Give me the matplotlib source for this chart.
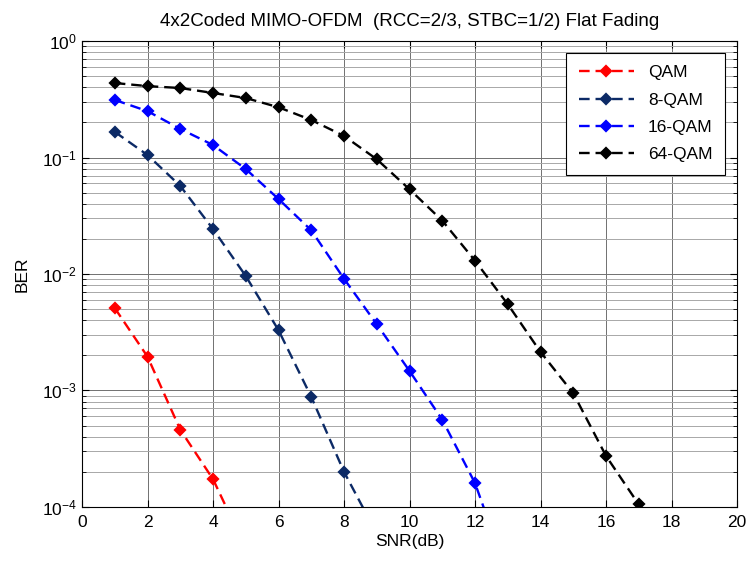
import numpy as np
import matplotlib
matplotlib.use("Agg")
import matplotlib.pyplot as plt
from matplotlib.ticker import LogLocator, FixedLocator, NullFormatter

plt.rcParams['font.family'] = ['Liberation Sans', 'DejaVu Sans']

snr_qam = [1, 2, 3, 4, 5]
ber_qam = [5.1e-3, 1.95e-3, 4.6e-4, 1.73e-4, 4.4e-5]

snr_8qam = [1, 2, 3, 4, 5, 6, 7, 8, 9]
ber_8qam = [0.166, 0.105, 0.057, 0.0243, 9.6e-3, 3.29e-3, 8.8e-4, 2.0e-4, 5.9e-5]

snr_16qam = [1, 2, 3, 4, 5, 6, 7, 8, 9, 10, 11, 12, 13]
ber_16qam = [0.312, 0.25, 0.176, 0.128, 0.0796, 0.044, 0.0237, 9.1e-3, 3.7e-3,
             1.47e-3, 5.6e-4, 1.6e-4, 2.6e-5]

snr_64qam = [1, 2, 3, 4, 5, 6, 7, 8, 9, 10, 11, 12, 13, 14, 15, 16, 17]
ber_64qam = [0.436, 0.41, 0.395, 0.358, 0.324, 0.27, 0.21, 0.153, 0.0966, 0.0533,
             0.0287, 0.013, 5.5e-3, 2.14e-3, 9.46e-4, 2.74e-4, 1.05e-4]

labels = ['QAM', '8-QAM', '16-QAM', '64-QAM']
colors = ['#ff0000', '#0c2a66', '#0000ff', '#000000']

fig = plt.figure(figsize=(7.49, 5.62), dpi=100)
ax = fig.add_axes([0.1095, 0.098, 0.8745, 0.829])

series = [(snr_qam, ber_qam), (snr_8qam, ber_8qam), (snr_16qam, ber_16qam), (snr_64qam, ber_64qam)]
for (x, y), lab, c in zip(series, labels, colors):
    ax.semilogy(x, y, linestyle='--', color=c, linewidth=1.7, marker='D',
                markersize=5.5, markeredgewidth=1.6, markerfacecolor=c,
                markeredgecolor=c, label=lab, dashes=(4.5, 2.5))

ax.set_xlim(0, 20)
ax.set_ylim(1e-4, 1)
ax.set_xticks(np.arange(0, 21, 2))
ax.yaxis.set_major_locator(LogLocator(base=10, numticks=10))
ax.yaxis.set_minor_locator(LogLocator(base=10, subs=np.arange(2, 10), numticks=50))
ax.yaxis.set_minor_formatter(NullFormatter())

ax.grid(True, which='major', color='#707070', linestyle='-', linewidth=0.7)
ax.grid(True, which='minor', axis='y', color='#a8a8a8', linestyle='-', linewidth=0.7)
ax.set_axisbelow(True)

ax.tick_params(which='both', direction='in', top=True, right=True, labelsize=12.5)
ax.tick_params(which='major', length=5)
ax.tick_params(which='minor', length=3)
ax.tick_params(axis='x', pad=6)

ax.set_xlabel('SNR(dB)', fontsize=12.5, labelpad=3)
ax.set_ylabel('BER', fontsize=12.5, labelpad=9)
ax.set_title('4x2Coded MIMO-OFDM  (RCC=2/3, STBC=1/2) Flat Fading', fontsize=13.5, pad=11)

leg = ax.legend(loc='upper right', fontsize=12.5, fancybox=False, framealpha=1,
                edgecolor='black', borderaxespad=0.7, handlelength=3.2,
                labelspacing=0.7, borderpad=0.7)
leg.get_frame().set_linewidth(0.8)

for s in ax.spines.values():
    s.set_linewidth(0.8)

fig.savefig('out.png', dpi=100)
